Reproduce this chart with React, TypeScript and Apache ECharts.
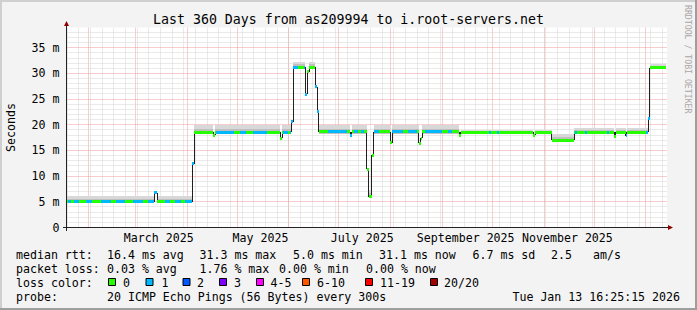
import React, { useEffect, useRef } from 'react';
import * as echarts from 'echarts';

const MONO = '"DejaVu Sans Mono", monospace';
const START_UTC = Date.UTC(2025, 0, 18, 16, 25);
const DAY_MS = 86400000;
const SPAN_DAYS = 360;
const Y_MAX = 38.94;

// median RTT plateaus: [startDay, endDay, ms] (days since start of the 360-day window)
const medianSegments: [number, number, number][] = [
  [0, 52.7, 5.0],
  [52.7, 54.3, 6.8],
  [54.3, 75.3, 5.0],
  [75.3, 76.5, 12.4],
  [76.5, 88.1, 18.5],
  [88.1, 89.3, 18.0],
  [89.3, 128.2, 18.5],
  [128.2, 129.4, 17.4],
  [129.4, 134.8, 18.5],
  [134.8, 136.0, 20.6],
  [136.0, 143.2, 31.2],
  [143.2, 144.4, 25.9],
  [144.4, 145.6, 30.3],
  [145.6, 149.2, 31.2],
  [149.2, 150.2, 27.4],
  [150.2, 151.1, 22.5],
  [151.1, 170.1, 18.6],
  [170.1, 171.0, 17.9],
  [171.0, 180.1, 18.6],
  [180.1, 181.1, 11.3],
  [181.1, 183.1, 6.0],
  [183.1, 184.1, 14.1],
  [184.1, 194.1, 18.6],
  [194.1, 195.3, 16.5],
  [195.3, 211.3, 18.6],
  [211.3, 212.5, 16.4],
  [212.5, 213.2, 17.4],
  [213.2, 235.4, 18.6],
  [235.4, 236.3, 17.9],
  [236.3, 279.7, 18.5],
  [279.7, 280.9, 18.0],
  [280.9, 290.9, 18.5],
  [290.9, 304.5, 17.0],
  [304.5, 328.3, 18.5],
  [328.3, 329.2, 17.8],
  [329.2, 335.3, 18.5],
  [335.3, 336.0, 17.9],
  [336.0, 348.8, 18.5],
  [348.8, 349.8, 21.2],
  [349.8, 359.4, 31.1],
];

// periods where 1 of 20 pings was lost: [startDay, endDay]
const loss1Intervals: [number, number][] = [
  [0.6, 2.4], [4.2, 7.2], [11.4, 15.0], [20.4, 26.4], [29.4, 35.3], [40.1, 46.1],
  [49.1, 54.3], [59.3, 62.3], [65.3, 68.9], [71.3, 76.5],
  [89.9, 100.6], [104.2, 107.8], [112.0, 120.4], [130.0, 133.0], [133.9, 139.0],
  [142.6, 144.4], [149.2, 151.1],
  [156.9, 168.3], [170.1, 171.0], [172.5, 174.9], [176.7, 178.5], [184.1, 187.5],
  [195.3, 201.9], [204.9, 210.2], [215.0, 225.2], [228.8, 231.2],
  [253.4, 254.3], [258.2, 259.4], [304.9, 306.1], [310.9, 312.1], [324.1, 325.3],
  [335.3, 336.0], [347.7, 349.8],
];

// smoke spread above the median: [startDay, endDay, ms above]
const smokeSpread: [number, number, number][] = [
  [0, 76.5, 1.2],
  [76.5, 136.0, 1.4],
  [136.0, 151.1, 1.1],
  [151.1, 236.3, 1.3],
  [236.3, 290.9, 0.5],
  [290.9, 304.5, 1.3],
  [304.5, 349.8, 0.9],
  [349.8, 360, 0.8],
];

const yTickValues = [0, 5, 10, 15, 20, 25, 30, 35];
const xLabelTexts = ['March 2025', 'May 2025', 'July 2025', 'September 2025', 'November 2025'];
const xLabelMonths: [number, number][] = [[2025, 2], [2025, 4], [2025, 6], [2025, 8], [2025, 10]];

const lossColors = ['#26ff00', '#00b8ff', '#0059ff', '#7e00ff', '#ff00ff', '#ff5500', '#ff0000', '#a10000'];
const lossLabels = ['0', '1', '2', '3', '4-5', '6-10', '11-19', '20/20'];

const rttStats = ['16.4 ms avg', '31.3 ms max', '5.0 ms min', '31.1 ms now', '6.7 ms sd', '2.5', 'am/s'];
const lossStats = ['0.03 % avg', '1.76 % max', '0.00 % min', '0.00 % now'];
const probeText = '20 ICMP Echo Pings (56 Bytes) every 300s';
const stampText = 'Tue Jan 13 16:25:15 2026';
const titleText = 'Last 360 Days from as209994 to i.root-servers.net';

const dayOf = (y: number, m: number, d: number) => (Date.UTC(y, m, d) - START_UTC) / DAY_MS;

function buildGridItems() {
  const items: number[][] = [];
  for (let d = dayOf(2025, 0, 19); d < SPAN_DAYS; d += 7) items.push([d, 0, 0]);
  for (let m = 1; m <= 12; m++) {
    const d = dayOf(2025, m, 1);
    if (d > 0 && d < SPAN_DAYS) items.push([d, 0, 1]);
  }
  for (let v = 1; v < Y_MAX; v++) if (v % 5 !== 0) items.push([0, v, 2]);
  for (let v = 5; v < Y_MAX; v += 5) items.push([0, v, 3]);
  return items;
}

// vertical connectors of the median step line: [day, fromMs, toMs]
function buildConnectors() {
  const out: number[][] = [];
  for (let i = 0; i < medianSegments.length - 1; i++) {
    out.push([medianSegments[i][1], medianSegments[i][2], medianSegments[i + 1][2]]);
  }
  return out;
}

function buildLossPieces() {
  const pieces: number[][] = [];
  for (const [s, e, v] of medianSegments) {
    const cuts = [s, e];
    for (const [a, b] of loss1Intervals) {
      if (a > s && a < e) cuts.push(a);
      if (b > s && b < e) cuts.push(b);
    }
    cuts.sort((x, y) => x - y);
    for (let i = 0; i < cuts.length - 1; i++) {
      const a = cuts[i];
      const b = cuts[i + 1];
      if (b - a <= 0) continue;
      const mid = (a + b) / 2;
      const loss = loss1Intervals.some(([p, q]) => mid >= p && mid < q) ? 1 : 0;
      pieces.push([a, b, v, loss]);
    }
  }
  return pieces;
}

function buildSmokePieces() {
  const pieces: number[][] = [];
  for (const [s, e, v] of medianSegments) {
    if (e - s < 2) continue;
    for (const [a, b, up] of smokeSpread) {
      const lo = Math.max(s, a);
      const hi = Math.min(e, b);
      if (hi > lo) pieces.push([lo, hi, v - 0.3, v + up, v + up * 0.5]);
    }
  }
  return pieces;
}

export default function App() {
  const ref = useRef<HTMLDivElement>(null);

  useEffect(() => {
    if (!ref.current) return;
    const chart = echarts.init(ref.current, undefined, { renderer: 'svg' });
    const xLabelDays = xLabelMonths.map(([y, m]) => dayOf(y, m, 15));

    const rowY = [254.5, 268.5, 282.5, 296.5];
    const statX1 = [107, 199.5, 293, 379, 472.5, 551, 593];
    const statX2 = [107, 199.5, 279, 366];
    const swatchX = [108, 145.5, 182.5, 219, 256, 302, 365, 430];
    const swatchLabelX = [123, 161.5, 197, 234, 270.5, 317, 380, 444];
    const txt = (text: string, x: number, y: number, extra: any = {}) => ({
      type: 'text',
      x,
      y,
      silent: true,
      style: { text, fontFamily: MONO, fontSize: 11.6, fill: '#000', verticalAlign: 'middle', align: 'left', ...extra },
    });

    const graphics: any[] = [
      { type: 'rect', shape: { x: 0, y: 0, width: 697, height: 2 }, style: { fill: '#cfcfcf' }, silent: true },
      { type: 'rect', shape: { x: 0, y: 0, width: 2, height: 310 }, style: { fill: '#cfcfcf' }, silent: true },
      { type: 'rect', shape: { x: 0, y: 308, width: 697, height: 2 }, style: { fill: '#9e9e9e' }, silent: true },
      { type: 'rect', shape: { x: 695, y: 0, width: 2, height: 310 }, style: { fill: '#9e9e9e' }, silent: true },
      { type: 'line', shape: { x1: 66.5, y1: 25.5, x2: 66.5, y2: 231 }, style: { stroke: '#222', lineWidth: 1 }, silent: true },
      { type: 'line', shape: { x1: 63, y1: 227.5, x2: 669, y2: 227.5 }, style: { stroke: '#222', lineWidth: 1 }, silent: true },
      { type: 'polygon', shape: { points: [[64, 26], [69, 26], [66.5, 21]] }, style: { fill: '#900000' }, silent: true },
      { type: 'polygon', shape: { points: [[668, 225], [668, 230], [673, 227.5]] }, style: { fill: '#900000' }, silent: true },
      {
        type: 'text', x: 687.5, y: 5, rotation: -Math.PI / 2, silent: true,
        style: { text: 'RRDTOOL / TOBI OETIKER', fontFamily: MONO, fontSize: 8.2, fill: '#a8a8a8', align: 'left', verticalAlign: 'middle' },
      },
      txt('median rtt:', 16, rowY[0]),
      ...rttStats.map((s, i) => txt(s, statX1[i], rowY[0])),
      txt('packet loss:', 16, rowY[1]),
      ...lossStats.map((s, i) => txt(s, statX2[i], rowY[1])),
      txt('loss color:', 16, rowY[2]),
      ...lossColors.map((c, i) => ({
        type: 'rect', silent: true,
        shape: { x: swatchX[i] + 0.5, y: 278.5, width: 7, height: 7 },
        style: { fill: c, stroke: '#000', lineWidth: 1 },
      })),
      ...lossLabels.map((l, i) => txt(l, swatchLabelX[i], rowY[2])),
      txt('probe:', 16, rowY[3]),
      txt(probeText, 107, rowY[3]),
      txt(stampText, 680, rowY[3], { align: 'right' }),
    ];

    const option: any = {
      animation: false,
      backgroundColor: '#f3f3f3',
      title: {
        text: titleText, left: 'center', top: 12.5, padding: 0,
        textStyle: { fontFamily: MONO, fontSize: 13.25, fontWeight: 'normal', color: '#000' },
      },
      grid: {
        left: 66.5, top: 27.5, width: 600.5, height: 200,
        show: true, backgroundColor: '#ffffff', borderWidth: 0, outerBoundsMode: 'none',
      },
      xAxis: {
        type: 'value', min: 0, max: SPAN_DAYS,
        axisLine: { show: false },
        axisTick: { show: false },
        splitLine: { show: false },
        axisLabel: {
          customValues: xLabelDays,
          formatter: (v: number) => {
            const i = xLabelDays.findIndex((d) => Math.abs(d - v) < 0.01);
            return i >= 0 ? xLabelTexts[i] : '';
          },
          fontFamily: MONO, fontSize: 11.6, color: '#000', margin: 4,
        },
      },
      yAxis: {
        type: 'value', min: 0, max: Y_MAX,
        name: 'Seconds', nameLocation: 'middle', nameRotate: 90, nameGap: 50,
        nameTextStyle: { fontFamily: MONO, fontSize: 11.6, color: '#000' },
        axisLine: { show: false },
        axisTick: { show: false },
        splitLine: { show: false },
        axisLabel: {
          customValues: yTickValues,
          formatter: (v: number) => (v === 0 ? '0' : `${v} m`),
          fontFamily: MONO, fontSize: 11.6, color: '#000', margin: 7,
        },
      },
      series: [
        {
          type: 'custom', silent: true, clip: true, z: 1,
          encode: { x: 0, y: 1 },
          data: buildGridItems(),
          renderItem: (_p: any, api: any) => {
            const kind = api.value(2);
            if (kind < 2) {
              const b = api.coord([api.value(0), 0]);
              const t = api.coord([api.value(0), Y_MAX]);
              const x = Math.round(b[0] - 0.5) + 0.5;
              return {
                type: 'line',
                shape: { x1: x, y1: b[1] - 1, x2: x, y2: t[1] },
                style: { stroke: kind === 1 ? '#f09a9a' : '#d4d4d4', lineWidth: 1, lineDash: [1, 1] },
              };
            }
            const l = api.coord([0, api.value(1)]);
            const r = api.coord([SPAN_DAYS, api.value(1)]);
            const y = Math.round(l[1] - 0.5) + 0.5;
            return {
              type: 'line',
              shape: { x1: l[0] + 1, y1: y, x2: r[0], y2: y },
              style: { stroke: kind === 3 ? '#f09a9a' : '#d4d4d4', lineWidth: 1, lineDash: [1, 1] },
            };
          },
        },
        {
          type: 'custom', silent: true, clip: true, z: 2,
          encode: { x: [0, 1], y: [2, 3] },
          data: buildSmokePieces(),
          renderItem: (_p: any, api: any) => {
            const a = api.coord([api.value(0), api.value(2)]);
            const b = api.coord([api.value(1), api.value(3)]);
            const m = api.coord([api.value(1), api.value(4)]);
            const x0 = Math.round(a[0]);
            const x1 = Math.round(b[0]);
            const yb = Math.round(a[1]);
            const yt = Math.round(b[1]);
            const ym = Math.round(m[1]);
            return {
              type: 'group',
              children: [
                { type: 'rect', shape: { x: x0, y: yt, width: x1 - x0, height: yb - yt }, style: { fill: '#d8d8d8' } },
                { type: 'rect', shape: { x: x0, y: ym, width: x1 - x0, height: yb - ym }, style: { fill: '#bfbfbf' } },
              ],
            };
          },
        },
        {
          type: 'custom', silent: true, clip: true, z: 3,
          encode: { x: 0, y: [1, 2] },
          data: buildConnectors(),
          renderItem: (_p: any, api: any) => {
            const a = api.coord([api.value(0), api.value(1)]);
            const b = api.coord([api.value(0), api.value(2)]);
            const x = Math.round(a[0] - 0.5) + 0.5;
            return {
              type: 'line',
              shape: { x1: x, y1: Math.round(a[1]), x2: x, y2: Math.round(b[1]) },
              style: { stroke: '#202020', lineWidth: 1 },
            };
          },
        },
        {
          type: 'custom', silent: true, clip: true, z: 4,
          encode: { x: [0, 1], y: 2 },
          data: buildLossPieces(),
          renderItem: (_p: any, api: any) => {
            const a = api.coord([api.value(0), api.value(2)]);
            const b = api.coord([api.value(1), api.value(2)]);
            const x0 = Math.round(a[0]);
            const x1 = Math.max(Math.round(b[0]), x0 + 1);
            const y = Math.round(a[1] - 1.5);
            return {
              type: 'rect',
              shape: { x: x0, y, width: x1 - x0, height: 3 },
              style: { fill: lossColors[api.value(3)] },
            };
          },
        },
      ],
      graphic: graphics,
    };

    chart.setOption(option);
    return () => chart.dispose();
  }, []);

  return (
    <div
      ref={ref}
      style={{ position: 'fixed', left: 0, top: 0, width: 697, height: 310 }}
    />
  );
}
